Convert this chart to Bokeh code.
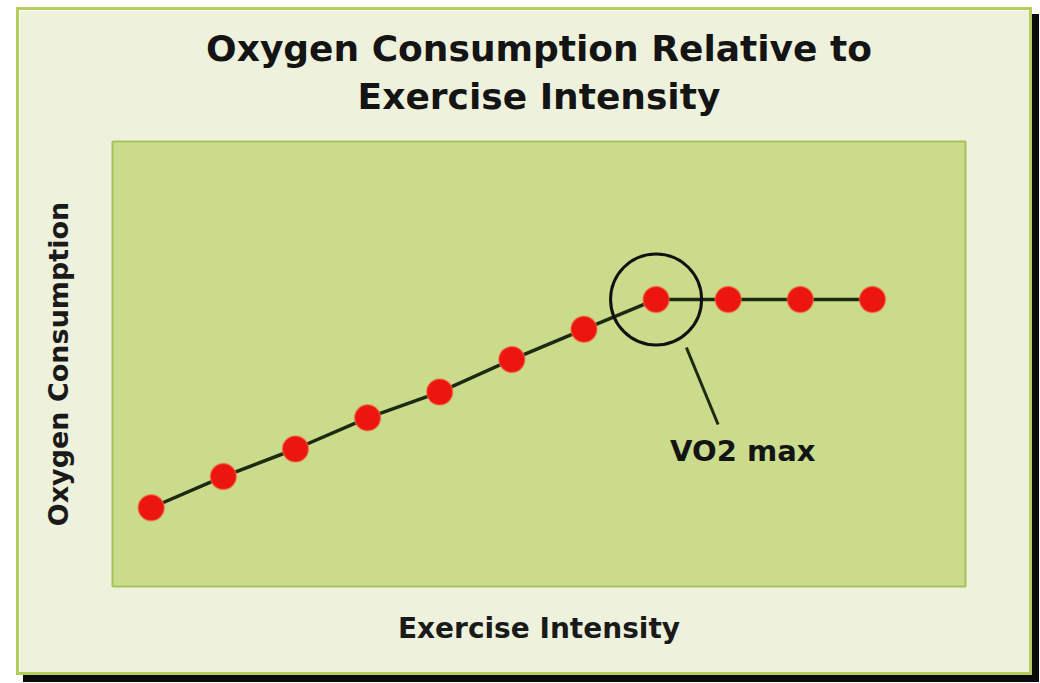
from bokeh.plotting import figure
from bokeh.models import Label, Title
from bokeh.embed import file_html
from bokeh.resources import INLINE

# ---- data ----
intensity = [1, 2, 3, 4, 5, 6, 7, 8, 9, 10, 11]
oxygen = [17.7, 24.7, 30.9, 37.9, 43.7, 51.0, 57.8, 64.5, 64.5, 64.5, 64.5]
title_lines = ["Oxygen Consumption Relative to", "Exercise Intensity"]
x_label = "Exercise Intensity"
y_label = "Oxygen Consumption"
callout_text = "VO2 max"
peak_index = 7

FONT = "DejaVu Sans"

p = figure(
    width=1016, height=668,
    x_range=(0.4635, 12.29), y_range=(0, 100),
    output_backend="svg", toolbar_location=None,
    min_border_left=93, min_border_right=70,
    min_border_top=131, min_border_bottom=92,
    title=None,
)
p.styles = {
    "transform": "translate(16px, 7px)",
    "border": "3px solid #b4ce5c",
    "box-shadow": "7px 7px 0 #0a0a0a",
}
p.border_fill_color = "#eef2dc"
p.background_fill_color = "#cadc8c"
p.outline_line_color = "#a6c35a"
p.outline_line_width = 2

# two centred title lines (first added sits nearest the frame)
for line, standoff in [(title_lines[1], 49), (title_lines[0], -39)]:
    t = Title(text=line, align="center", text_font=FONT, text_font_size="36px",
              text_font_style="bold", text_color="#141414", standoff=standoff)
    p.add_layout(t, "above")

p.xgrid.visible = False
p.ygrid.visible = False
for ax in (p.xaxis, p.yaxis):
    ax.ticker = []
    ax.axis_line_color = None
    ax.major_tick_line_color = None
    ax.minor_tick_line_color = None
    ax.major_label_standoff = 0
    ax.major_tick_out = 0
    ax.major_tick_in = 0
    ax.axis_label_text_font = FONT
    ax.axis_label_text_font_style = "bold"
    ax.axis_label_text_color = "#1a1a1a"
p.xaxis.axis_label = x_label
p.yaxis.axis_label = y_label
p.xaxis.axis_label_text_font_size = "28px"
p.yaxis.axis_label_text_font_size = "27px"
p.xaxis.axis_label_standoff = 25
p.yaxis.axis_label_standoff = 39

# data line + points
p.line(intensity, oxygen, line_color="#1c2a12", line_width=3.5)
p.scatter(intensity, oxygen, size=26, fill_color="#ec1510",
          line_color="#f26a3a", line_width=1.5, line_alpha=0.6)

# VO2 max callout ring around the plateau start
px, py = intensity[peak_index], oxygen[peak_index]
p.scatter([px], [py], size=91, fill_color=None,
          line_color="#111111", line_width=3)
# leader line (offsets from the peak point, in data units)
p.segment(x0=[px + 0.42], y0=[py - 10.8], x1=[px + 0.86], y1=[py - 28.1],
          line_color="#1c2a12", line_width=3)
p.add_layout(Label(x=px, y=py, x_offset=14, y_offset=-152,
                   text=callout_text, text_font=FONT,
                   text_font_style="bold", text_font_size="29px",
                   text_color="#141414", text_baseline="alphabetic"))

open("out.html", "w").write(file_html(p, INLINE))
